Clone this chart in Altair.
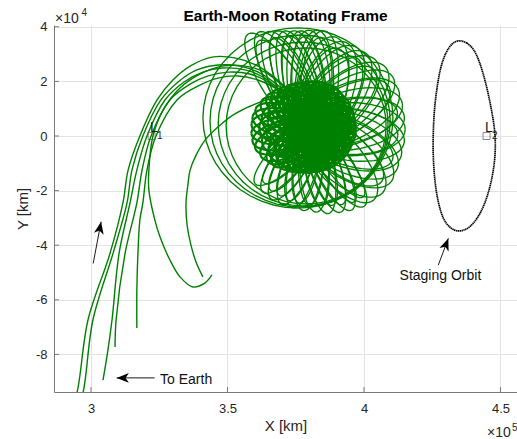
import math
import altair as alt
import pandas as pd

alt.data_transformers.disable_max_rows()

# ---- plot window (km); both axes share one km-per-pixel scale ----
X_DOMAIN = [286450, 456050]
Y_DOMAIN = [-93770, 40660]
PLOT_W, PLOT_H = 463, 367

GREEN = "#008000"
INK = "#262626"
AXIS_GRAY = "#7a7a7a"
GRID_GRAY = "#e3e3e3"
FONT = "Liberation Sans"

x_ticks = [300000, 350000, 400000, 450000]
y_ticks = [-80000, -60000, -40000, -20000, 0, 20000, 40000]

# ---- libration points ----
lib_x = [322200, 444900]
lib_y = [0, 0]
lib_index = ["1", "2"]

# ---- staging orbit (halo about L2, XY projection) ----
stage_x = [434800, 437700, 440300, 442200, 444100, 445800, 447200, 448200, 448100,
           446800, 444500, 441500, 438200, 434800, 431500, 428800, 426900, 425800,
           425300, 425300, 425700, 426700, 428000, 430000, 432300]
stage_y = [35200, 34300, 31800, 27600, 21500, 14300, 7000, 0, -8100,
           -16500, -24500, -30500, -34000, -35200, -33900, -30300, -23400, -15400,
           -7000, 0, 9500, 17600, 25300, 30800, 34100]

# ---- transfer arcs between Earth side and the lunar region ----
arc1_x = [293000, 294900, 298900, 307000, 311700, 313600, 317900, 324200, 330000,
          336300, 344300, 352700, 361200, 369200, 375800, 381000]
arc1_y = [-98500, -93800, -67400, -42900, -24500, -12500, 0, 13200, 20500,
          25600, 28900, 28600, 25600, 19800, 13200, 6600]

arc2_x = [295200, 297100, 300700, 308100, 313200, 315000, 319000, 325600, 331900,
          338800, 346500, 354600, 362600, 369600, 375800, 381000]
arc2_y = [-98500, -93800, -67400, -42900, -24500, -12500, 0, 13200, 19800,
          24200, 26000, 25600, 22700, 17600, 11700, 5900]

arc3_x = [304400, 306200, 307700, 310300, 314300, 316800, 320500, 327100, 334100,
          341000, 348000, 356400, 363700, 370000, 375800, 381000]
arc3_y = [-89400, -78400, -67400, -42900, -24500, -12500, 0, 13200, 19800,
          23400, 24900, 24200, 21200, 16100, 10300, 4400]

arc4_x = [308800, 309200, 312500, 316800, 318700, 322000, 328900, 336300, 342900,
          350200, 358200, 364800, 370700, 376600, 381700]
arc4_y = [-77300, -67400, -42900, -24500, -12500, 0, 13200, 19000, 22000,
          23400, 22700, 19800, 14700, 8800, 2900]

arc5_x = [316800, 316800, 317200, 317900, 319000, 320500, 323800, 331500, 339200,
          346500, 353800, 361200, 367400, 372900, 378000]
arc5_y = [-70300, -56400, -42900, -30800, -24500, -12500, 0, 13200, 18300,
          21200, 22000, 20500, 17600, 13200, 7300]

hook_x = [344300, 341800, 337400, 332600, 328900, 325300, 323400, 321200, 321200,
          322700, 326400, 332600, 339900, 348000, 356400, 363700, 370300, 375800, 381000]
hook_y = [-50900, -53800, -55300, -51600, -45400, -37000, -30800, -19800, -12500,
          0, 9500, 17600, 22700, 25600, 25600, 23400, 18300, 12500, 6600]

exit_x = [341000, 338500, 336600, 335200, 334800, 335500, 336300, 338500, 341800,
          346500, 352700, 360100, 367400, 373600, 378800]
exit_y = [-51600, -46200, -39900, -32600, -24500, -17900, -12500, -7000, -1500,
          3300, 8100, 11700, 13900, 13200, 9500]

# ---- loops about the Moon ----
moon_x, moon_y = 381000, 2500

# long lobes: direction (deg), far reach (km), loop width (km)
lobe_angle = [124, 119, 115, 110, 106, 101, 97, 92, 87, 83,
              76, 69, 62, 55, 48, 40, 33, 25, 17, 8,
              0, -8, -17, -25, -33, -42, -49,
              -56, -64, -71, -79, -87, -96, -104, -112, -120, -128, -136]
lobe_reach = [42000, 40600, 39300, 38200, 37400, 36700, 36300, 36300, 36300, 36300,
              34800, 34100, 34100, 34100, 34400, 35200, 35200, 34800, 34400, 34100,
              34100, 34100, 34100, 34400, 34800, 34800, 34400,
              34100, 33000, 32200, 31500, 30400, 30000, 29700, 29700, 29700, 29300, 28900]
lobe_width = [14000, 13500, 14500, 14000, 13800, 14200, 14000, 14500, 14000, 15000,
              18000, 19000, 19500, 19000, 20000, 19500, 19000, 20500, 19500, 19000,
              19500, 19000, 20000, 19500, 19000, 18500, 17000,
              11500, 11000, 10800, 10500, 10800, 11000, 10500, 10800, 11000, 10800, 10500]
LOBE_TAIL = 6000

# nested lobes between the long ones
inner_angle = [121, 113, 104, 95, 85,
               72, 58, 44, 29, 12, -4, -21, -37,
               -53, -60, -68, -75, -83, -92, -100, -108, -116, -124, -132]
inner_reach = [37800, 36300, 35000, 34000, 33600,
               31100, 30800, 31500, 32200, 31900, 31500, 31500, 31900,
               31100, 30800, 29700, 28900, 28200, 27800, 27500, 27500, 27100, 27100, 26400]
inner_width = [12000, 11500, 12300, 12000, 11700,
               16000, 16500, 16200, 17000, 16000, 16500, 16200, 15800,
               9300, 9000, 9500, 9200, 9000, 9300, 9500, 9000, 9200, 9300, 9000]
INNER_TAIL = 6000

# dense short loops forming the core
core_angle = [0, 7, 15, 24, 31, 39, 48, 56, 63, 71, 80, 88, 95, 104, 112,
              119, 128, 136, 143, 151, 160, 168, 175, 184, 192, 199, 208, 216, 223, 231,
              240, 248, 255, 264, 272, 279, 288, 296, 303, 311, 320, 328, 335, 343, 352]
core_reach = [16100, 16100, 16100, 16400, 16400, 16800, 16800, 17200, 17600, 17600,
              17600, 17600, 17600, 17600, 18000, 18300, 19000, 19800, 20500, 21200,
              22000, 22300, 22300, 22300, 22300, 22000, 21200, 20100, 19400, 18300,
              17600, 16800, 16400, 16100, 15700, 15700, 15700, 15700, 15700, 15700,
              15700, 15700, 15700, 15700, 16100]
core_tail = [3000, 5000, 1500, 4000, 6000, 2500, 4500, 1000, 5500, 3500, 2000, 6000, 3000,
             5000, 1500, 4000, 6000, 2500, 4500, 1000, 5500, 3500, 2000, 6000, 3000,
             5000, 1500, 4000, 6000, 2500, 4500, 1000, 5500, 3500, 2000, 6000, 3000,
             5000, 1500, 4000, 6000, 2500, 4500, 1000, 5500]
CORE_WIDTH = 10500

core2_angle = [3, 17, 27, 42, 51, 66, 75, 89, 99, 113, 122, 137, 146, 161, 171,
               186, 195, 209, 219, 233, 243, 257, 266, 281, 290, 305, 314, 329, 338, 353]
core2_reach = [13200, 13500, 13900, 13200, 14300, 13900, 14600, 15000, 14600, 15400,
               15000, 15700, 16100, 16800, 16500, 16800, 16100, 15700, 15400, 14600,
               14300, 13900, 13500, 13200, 13500, 13200, 13900, 13500, 13200, 13900]
CORE2_TAIL, CORE2_WIDTH = 7300, 7500

core3_angle = [11, 34, 58, 79, 103, 125, 149, 172, 196, 221, 246, 269, 293, 317, 341,
               22, 46, 69, 91, 116, 139, 161, 184, 207, 232, 257, 281, 305, 329, 352]
core3_reach = [10300, 10600, 11000, 10600, 11300, 11000, 11700, 12100, 11700, 11300,
               10600, 10300, 10300, 10600, 10300,
               8800, 9200, 8800, 9500, 9200, 9900, 10300, 9900, 9500, 9200,
               8800, 8800, 9200, 8800, 9200]
core3_tail = [2200, 3300, 1500, 2600, 3700, 1800, 2900, 1100, 3300, 2200, 1500, 3700, 2600,
              1800, 2900, 4000, 3300, 4400, 3700, 4800, 4000, 3300, 4400, 3700, 4800,
              4000, 3300, 4400, 3700, 4800]
CORE3_WIDTH = 8000

core4_angle = [5, 19, 36, 53, 67, 84, 98, 117, 131, 147, 164, 178, 197, 213, 228,
               244, 259, 276, 291, 308, 322, 338, 12, 44, 108, 155, 202, 251, 298, 345]
core4_reach = [14300, 14600, 15000, 15400, 15700, 16100, 16100, 16800, 17600, 18300,
               19000, 19400, 19000, 18300, 17200, 16100, 15400, 15000, 14600, 14300,
               14300, 14300, 12500, 12800, 13200, 14300, 14600, 12800, 12500, 12500]
core4_tail = [800, 1500, 500, 1200, 2000, 700, 1600, 400, 1300, 1900, 600, 1400, 900,
              1700, 500, 1100, 1800, 700, 1500, 300, 1200, 2000, 9500, 10200, 9800,
              10600, 9900, 10300, 9700, 10100]
core4_width = [13000, 12500, 13500, 12800, 13200, 12600, 13400, 12900, 13100, 12700,
               13300, 12800, 13000, 12600, 13400, 12900, 13100, 12700, 13300, 12800,
               13000, 12600, 5000, 5500, 5200, 4800, 5400, 5100, 5300, 4900]

# wide rings swinging round the Moon
ring_cx = [375800, 376600, 377700, 378800]
ring_cy = [6600, 5500, 4400, 3700]
ring_rx = [34800, 33000, 31100, 29300]
ring_ry = [33000, 31500, 30000, 28600]

# ---- annotations ----
arrow_tail_x = [300800, 323300, 427200]
arrow_tail_y = [-46700, -88600, -47300]
arrow_tip_x = [303700, 309400, 430900]
arrow_tip_y = [-31400, -88600, -37500]


# ---------------------------------------------------------------------------
N_SEG = 48


def lobe_outline(angle_deg, reach, tail, width):
    th = math.radians(angle_deg)
    c, s = math.cos(th), math.sin(th)
    a = (reach + tail) / 2.0
    shift = (reach - tail) / 2.0
    b = width / 2.0
    cx, cy = moon_x + shift * c, moon_y + shift * s
    pts = []
    for k in range(N_SEG + 1):
        t = 2 * math.pi * k / N_SEG
        u, v = a * math.cos(t), b * math.sin(t)
        pts.append((cx + u * c - v * s, cy + u * s + v * c))
    return pts


def ring_outline(cx, cy, rx, ry):
    pts = []
    for k in range(N_SEG + 1):
        t = 2 * math.pi * k / N_SEG
        pts.append((cx + rx * math.cos(t), cy + ry * math.sin(t)))
    return pts


outer_rows, core_rows = [], []


def add_loop(rows, tag, pts):
    for i, (x, y) in enumerate(pts):
        rows.append({"x": x, "y": y, "id": tag, "i": i})


for k, (a, r, w) in enumerate(zip(lobe_angle, lobe_reach, lobe_width)):
    add_loop(outer_rows, f"lobe{k}", lobe_outline(a, r, LOBE_TAIL, w))
for k, (a, r, w) in enumerate(zip(inner_angle, inner_reach, inner_width)):
    add_loop(outer_rows, f"inner{k}", lobe_outline(a, r, INNER_TAIL, w))
for k, (cx, cy, rx, ry) in enumerate(zip(ring_cx, ring_cy, ring_rx, ring_ry)):
    add_loop(outer_rows, f"ring{k}", ring_outline(cx, cy, rx, ry))
for k, (a, r, t) in enumerate(zip(core_angle, core_reach, core_tail)):
    add_loop(core_rows, f"core{k}", lobe_outline(a, r, t, CORE_WIDTH))
for k, (a, r) in enumerate(zip(core2_angle, core2_reach)):
    add_loop(core_rows, f"coreb{k}", lobe_outline(a, r, CORE2_TAIL, CORE2_WIDTH))
for k, (a, r, t) in enumerate(zip(core3_angle, core3_reach, core3_tail)):
    add_loop(core_rows, f"corec{k}", lobe_outline(a, r, t, CORE3_WIDTH))
for k, (a, r, t, w) in enumerate(zip(core4_angle, core4_reach, core4_tail, core4_width)):
    add_loop(core_rows, f"cored{k}", lobe_outline(a, r, t, w))
df_outer = pd.DataFrame(outer_rows)
df_core = pd.DataFrame(core_rows)

arc_rows = []
for tag, xs, ys in [("arc1", arc1_x, arc1_y), ("arc2", arc2_x, arc2_y),
                    ("arc3", arc3_x, arc3_y), ("arc4", arc4_x, arc4_y),
                    ("arc5", arc5_x, arc5_y), ("hook", hook_x, hook_y),
                    ("exit", exit_x, exit_y)]:
    for i, (x, y) in enumerate(zip(xs, ys)):
        arc_rows.append({"x": x, "y": y, "id": tag, "i": i})
df_arcs = pd.DataFrame(arc_rows)

df_stage = pd.DataFrame({"x": stage_x, "y": stage_y, "i": list(range(len(stage_x)))})
df_lib = pd.DataFrame({"x": lib_x, "y": lib_y, "n": lib_index})
df_xt = pd.DataFrame({"x": x_ticks})
df_yt = pd.DataFrame({"y": y_ticks})

df_shaft = pd.DataFrame({"x": arrow_tail_x, "y": arrow_tail_y,
                         "x2": arrow_tip_x, "y2": arrow_tip_y})
head_angle = [math.degrees(math.atan2(tx - sx, ty - sy)) % 360
              for sx, sy, tx, ty in zip(arrow_tail_x, arrow_tail_y, arrow_tip_x, arrow_tip_y)]
df_head = pd.DataFrame({"x": arrow_tip_x, "y": arrow_tip_y, "ang": head_angle})

# ---- shared encodings ----
x_scale = alt.Scale(domain=X_DOMAIN, nice=False, zero=False)
y_scale = alt.Scale(domain=Y_DOMAIN, nice=False, zero=False)

x_enc = alt.X(
    "x:Q", scale=x_scale,
    axis=alt.Axis(values=x_ticks, labelExpr="datum.value / 100000", grid=True,
                  gridColor=GRID_GRAY, gridWidth=1, domainColor=AXIS_GRAY, domainWidth=1,
                  ticks=False, labelFont=FONT, labelFontSize=13, labelColor=INK,
                  labelPadding=10, labelFlush=False, labelOverlap=False,
                  title="X [km]", titleFont=FONT, titleFontSize=15,
                  titleFontWeight="normal", titleColor=INK,
                  titleBaseline="alphabetic", titleY=38),
)
y_enc = alt.Y(
    "y:Q", scale=y_scale,
    axis=alt.Axis(values=y_ticks, labelExpr="datum.value / 10000", grid=True,
                  gridColor=GRID_GRAY, gridWidth=1, domainColor=AXIS_GRAY, domainWidth=1,
                  ticks=False, labelFont=FONT, labelFontSize=13, labelColor=INK,
                  labelPadding=7, labelFlush=False, labelOverlap=False,
                  title="Y [km]", titleFont=FONT, titleFontSize=15,
                  titleFontWeight="normal", titleColor=INK, titleAngle=270,
                  titleAlign="center", titleBaseline="alphabetic",
                  titleX=-27, titleY=PLOT_H / 2),
)

outer = alt.Chart(df_outer).mark_line(color=GREEN, strokeWidth=1.35, clip=True).encode(
    x=x_enc, y=y_enc, detail="id:N", order="i:Q")
core = alt.Chart(df_core).mark_line(color=GREEN, strokeWidth=2.2, clip=True).encode(
    x=x_enc, y=y_enc, detail="id:N", order="i:Q")

arcs = alt.Chart(df_arcs).mark_line(color=GREEN, strokeWidth=1.4, clip=True,
                                    interpolate="catmull-rom").encode(
    x=x_enc, y=y_enc, detail="id:N", order="i:Q")

stage = alt.Chart(df_stage).mark_line(color="black", strokeWidth=1.7, strokeDash=[1.4, 0.5],
                                      interpolate="basis-closed").encode(
    x=x_enc, y=y_enc, order="i:Q")

x_inner_ticks = alt.Chart(df_xt).mark_rule(color=AXIS_GRAY).encode(
    x=x_enc, y=alt.value(PLOT_H), y2=alt.value(PLOT_H - 5))
y_inner_ticks = alt.Chart(df_yt).mark_rule(color=AXIS_GRAY).encode(
    y=y_enc, x=alt.value(0), x2=alt.value(5))

lib_box = alt.Chart(df_lib).mark_point(shape="square", size=49, filled=False,
                                       color="#5a5a5a", strokeWidth=1).encode(x=x_enc, y=y_enc)
lib_L = alt.Chart(df_lib).mark_text(text="L", align="left", baseline="alphabetic",
                                    dx=-1.5, dy=-4, font=FONT, fontSize=14,
                                    color="#1a1a1a").encode(x=x_enc, y=y_enc)
lib_n = alt.Chart(df_lib).mark_text(align="left", baseline="alphabetic", dx=5.5, dy=2.5,
                                    font=FONT, fontSize=10, color="#1a1a1a").encode(
    x=x_enc, y=y_enc, text="n:N")

HEAD_PATH = "M0,0 L0.8,2 L0,1.45 L-0.8,2 Z"
shafts = alt.Chart(df_shaft).mark_rule(color="#1a1a1a", strokeWidth=1).encode(
    x=x_enc, y=y_enc, x2="x2:Q", y2="y2:Q")
heads = alt.Chart(df_head).mark_point(shape=HEAD_PATH, filled=True, color="black",
                                      size=150, opacity=1).encode(
    x=x_enc, y=y_enc, angle=alt.Angle("ang:Q", scale=None))

to_earth = alt.Chart(pd.DataFrame({"x": [325300], "y": [-90800], "t": ["To Earth"]})).mark_text(
    align="left", baseline="alphabetic", font=FONT, fontSize=14, color="#111111").encode(
    x=x_enc, y=y_enc, text="t:N")
staging = alt.Chart(pd.DataFrame({"x": [428000], "y": [-52700], "t": ["Staging Orbit"]})).mark_text(
    align="center", baseline="alphabetic", font=FONT, fontSize=14, color="#111111").encode(
    x=x_enc, y=y_enc, text="t:N")


def frame_text(label, px, py, size, weight="normal", align="left", color=INK):
    return alt.Chart(pd.DataFrame({"t": [label]})).mark_text(
        align=align, baseline="alphabetic", font=FONT, fontSize=size,
        fontWeight=weight, color=color).encode(
        x=alt.value(px), y=alt.value(py), text="t:N")


title = frame_text("Earth-Moon Rotating Frame", PLOT_W / 2, -4, 15.5, "bold", "center", "black")
y_exp = frame_text("\u00d710", 1, -2, 14)
y_exp_pow = frame_text("4", 27.5, -9, 10)
x_exp = frame_text("\u00d710", 433, 412, 14)
x_exp_pow = frame_text("5", 458, 406, 10)

chart = alt.layer(
    outer, core, arcs, stage, x_inner_ticks, y_inner_ticks,
    lib_box, lib_L, lib_n, shafts, heads, to_earth, staging,
    title, y_exp, y_exp_pow, x_exp, x_exp_pow,
).properties(
    width=PLOT_W, height=PLOT_H,
    autosize=alt.AutoSizeParams(type="none"),
    padding={"left": 54, "top": 25, "right": 0, "bottom": 47},
).configure_view(strokeWidth=0)

chart.save("out.html", embed_options={"renderer": "svg", "actions": False})
